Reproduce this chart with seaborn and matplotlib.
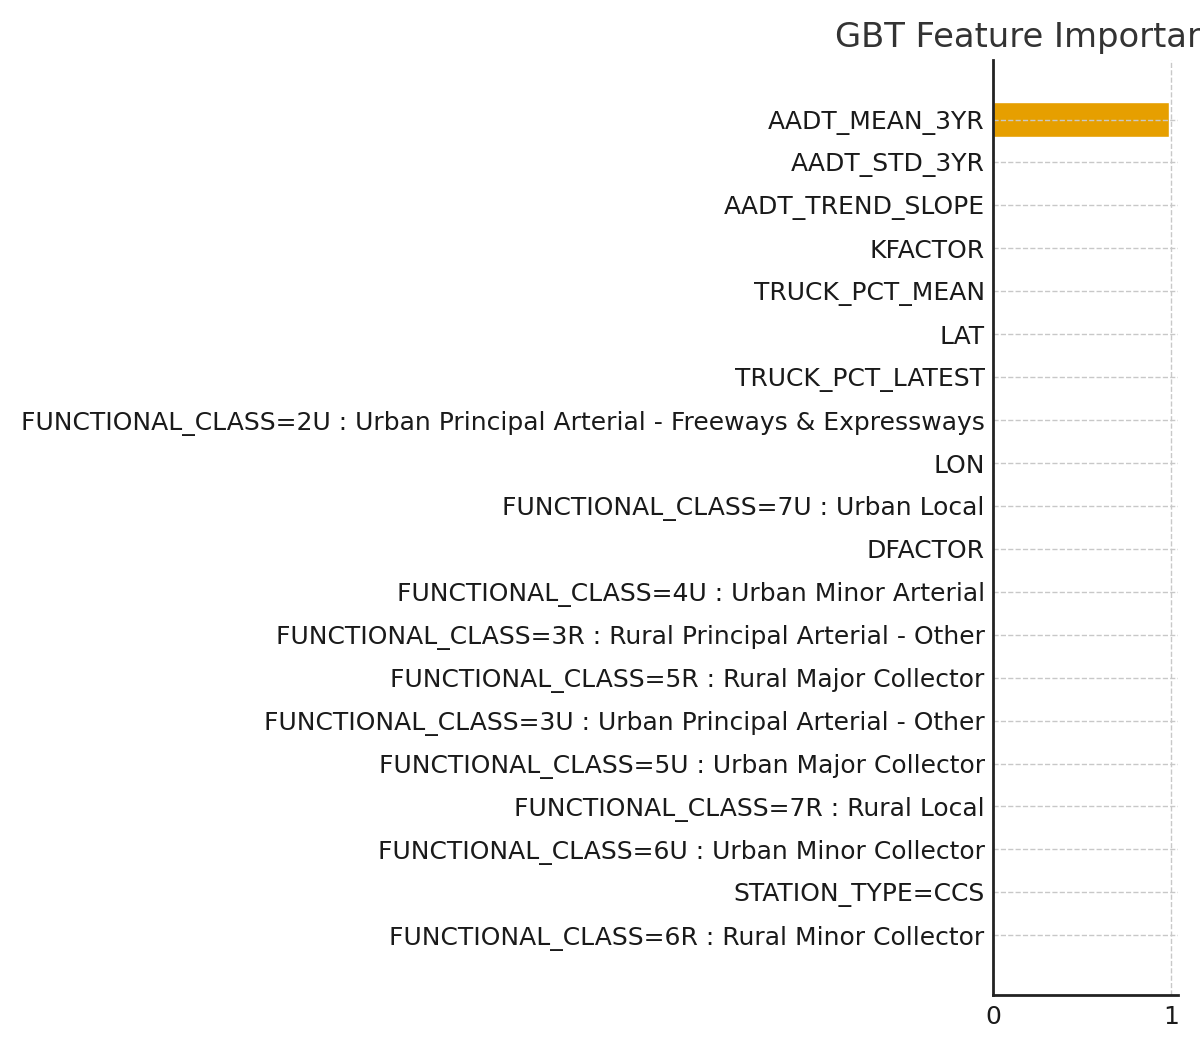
import matplotlib
matplotlib.use("Agg")
import matplotlib.pyplot as plt
import seaborn as sns
import pandas as pd

# Feature importances from the GBT model (sorted, largest first)
features = [
    "AADT_MEAN_3YR",
    "AADT_STD_3YR",
    "AADT_TREND_SLOPE",
    "KFACTOR",
    "TRUCK_PCT_MEAN",
    "LAT",
    "TRUCK_PCT_LATEST",
    "FUNCTIONAL_CLASS=2U : Urban Principal Arterial - Freeways & Expressways",
    "LON",
    "FUNCTIONAL_CLASS=7U : Urban Local",
    "DFACTOR",
    "FUNCTIONAL_CLASS=4U : Urban Minor Arterial",
    "FUNCTIONAL_CLASS=3R : Rural Principal Arterial - Other",
    "FUNCTIONAL_CLASS=5R : Rural Major Collector",
    "FUNCTIONAL_CLASS=3U : Urban Principal Arterial - Other",
    "FUNCTIONAL_CLASS=5U : Urban Major Collector",
    "FUNCTIONAL_CLASS=7R : Rural Local",
    "FUNCTIONAL_CLASS=6U : Urban Minor Collector",
    "STATION_TYPE=CCS",
    "FUNCTIONAL_CLASS=6R : Rural Minor Collector",
]
importance = [
    0.9905, 0.0009, 0.0007, 0.0005, 0.0004, 0.0003, 0.00025, 0.0002, 0.00015, 0.0001,
    0.00008, 0.00006, 0.00005, 0.00004, 0.00003, 0.00002, 0.00001, 0.000008, 0.000005, 0.000002,
]

df = pd.DataFrame({"feature": features, "importance": importance})

sns.set_theme(style="white")
plt.rcParams["font.family"] = ["DejaVu Sans"]

fig, ax = plt.subplots(figsize=(12, 10.5), dpi=100)
fig.subplots_adjust(left=0.8275, right=0.9817, top=0.943, bottom=0.0524)

sns.barplot(data=df, x="importance", y="feature", orient="h", color="#E69F00",
            saturation=1, width=0.8, ax=ax)

# grid over the bars but under the spines
ax.set_axisbelow("line")
ax.grid(True, linestyle="--", color="#c8c8c8", linewidth=1)
ax.set_xticks([0, 1])
ax.set_xlim(0, 1.04)
n = len(features)
ax.set_ylim(n - 1 + 1.39, -1.39)
ax.set_xlabel("")
ax.set_ylabel("")
ax.set_title("GBT Feature Importance", fontsize=24.3, color="#333333", pad=9, x=0.26)

ax.tick_params(axis="both", direction="in", length=7, width=2, color="#222222",
               labelsize=18, labelcolor="#1a1a1a")
ax.tick_params(axis="y", pad=6)
ax.tick_params(axis="x", pad=7)
sns.despine(ax=ax)
for side in ["left", "bottom"]:
    ax.spines[side].set_color("#222222")
    ax.spines[side].set_linewidth(2)

fig.savefig("out.png", dpi=100)
